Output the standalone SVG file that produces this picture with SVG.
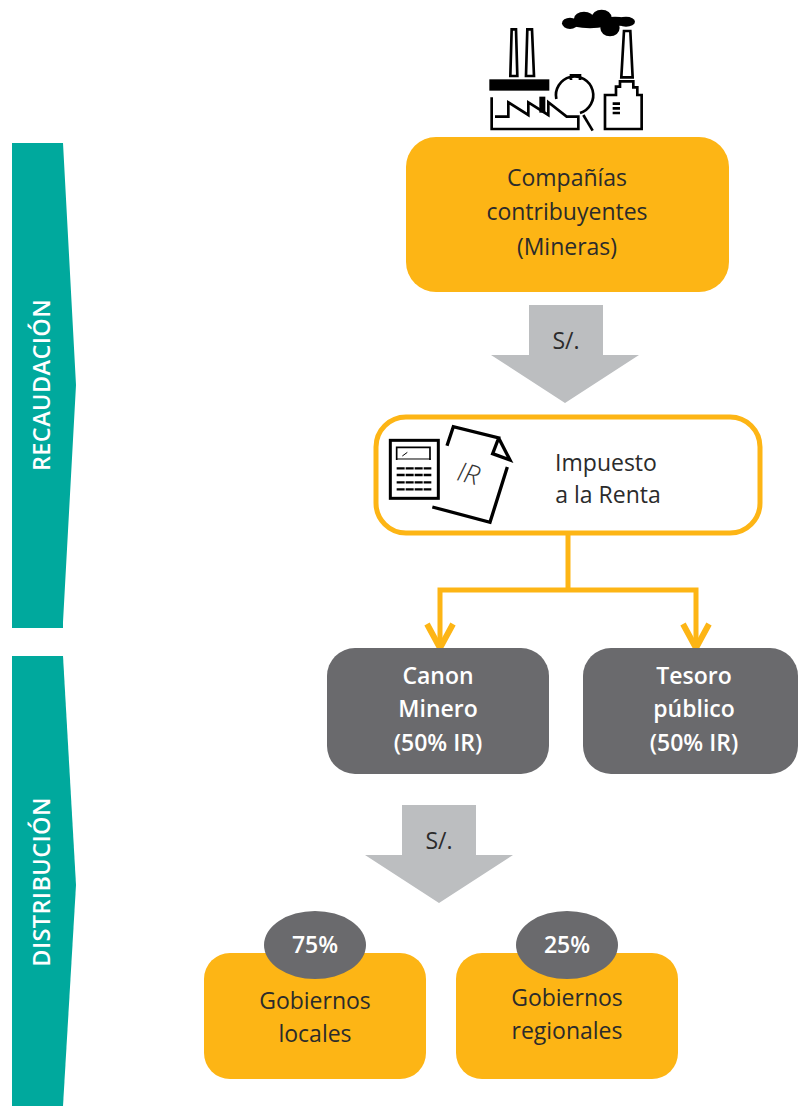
<svg xmlns="http://www.w3.org/2000/svg" width="798" height="1106" viewBox="0 0 798 1106">
<style>
text{font-family:"Open Sans","Noto Sans","Liberation Sans",sans-serif;text-anchor:middle}
.t{font-size:23px;fill:#2b2b2b}
.w{font-size:23px;fill:#fff;font-weight:600}
.s{font-size:23.5px;fill:#fff;font-weight:600;letter-spacing:.4px}
.y{fill:#fdb515}
.g{fill:#6a6a6d}
.a{fill:#bcbec0}
.b{fill:#00a99d}
.k{fill:none;stroke:#000;stroke-width:8}
.c{fill:none;stroke:#fdb515;stroke-width:5}
</style>
<defs>
<marker id="ah" markerUnits="userSpaceOnUse" viewBox="0 0 34 34" refX="31" refY="17" markerWidth="34" markerHeight="34" orient="auto"><path d="M5 4L29 17L5 30" fill="none" stroke="#fdb515" stroke-width="6"/></marker>
</defs>
<rect width="798" height="1106" fill="#fff"/>
<g id="band-recaudacion">
<path class="b" d="M12 143H63L76 385L63 622V628H12Z"/>
<text class="s" transform="translate(50 385) rotate(-90)">RECAUDACIÓN</text>
</g>
<g id="band-distribucion">
<path class="b" d="M12 656H63L76 885L63 1106H12Z"/>
<text class="s" transform="translate(50 882) rotate(-90)">DISTRIBUCIÓN</text>
</g>
<g id="icon-factory" transform="translate(470 0) scale(.3333)">
<path class="k" d="M125 88H138L142 228H121ZM172 88H186L192 228H168ZM454 232L462 93H481L488 232Z"/>
<rect x="58" y="238" width="180" height="34"/>
<path class="k" d="M65 292V387H325V350H290L235 307V345L175 307V345L115 307V350H75"/>
<rect x="208" y="290" width="18" height="48"/>
<path d="M259 297A56 56 0 1 1 330 339M303 240V226H330V240" class="k"/>
<path d="M340 345L368 392" class="k"/>
<path class="k" d="M405 387V285H438V260H450V244H490V262H502V285H515V387Z"/>
<path d="M428 311H450M428 325H450M428 339H450" stroke="#000" stroke-width="8"/>
<ellipse cx="300" cy="70" rx="24" ry="17"/>
<ellipse cx="342" cy="56" rx="30" ry="21"/>
<ellipse cx="395" cy="54" rx="30" ry="25"/>
<ellipse cx="420" cy="84" rx="29" ry="25"/>
<ellipse cx="468" cy="65" rx="27" ry="15"/>
<ellipse cx="360" cy="70" rx="62" ry="15"/>
<ellipse cx="435" cy="64" rx="40" ry="14"/>
</g>
<g id="node-companias">
<rect class="y" x="406" y="137" width="323" height="155" rx="30"/>
<text class="t" x="567" y="186">Compañías</text>
<text class="t" x="567" y="220">contribuyentes</text>
<text class="t" x="567" y="255">(Mineras)</text>
</g>
<g id="arrow-1">
<path class="a" d="M529 305H603V355H639L565 403L491 355H529Z"/>
<text class="t" x="566" y="349">S/.</text>
</g>
<g id="node-impuesto">
<rect x="376" y="417" width="384" height="116" rx="30" fill="#fff" stroke="#fdb515" stroke-width="5"/>
<g id="icon-doc" transform="translate(370 405) scale(.3333)">
<rect x="61" y="106" width="144" height="174" fill="none" stroke="#000" stroke-width="9"/>
<path d="M80 165V127H180V165" fill="none" stroke="#000" stroke-width="5"/>
<path d="M80 162H182" stroke="#000" stroke-width="3"/>
<path d="M97 153L112 142" stroke="#000" stroke-width="3"/>
<path d="M80 190H184M80 210H184M80 232H184M80 253H184" stroke="#000" stroke-width="7" stroke-dasharray="24 3"/>
<path d="M231 122L250 65L386 99L368 146L420 165L386 99M412 186L360 352L187 306" fill="none" stroke="#000" stroke-width="10"/>
<text x="296" y="234" transform="rotate(14 296 205)" style="font-size:80px;font-weight:300;font-style:italic;fill:#333">IR</text>
</g>
<text class="t" x="606" y="471">Impuesto</text>
<text class="t" x="608" y="503">a la Renta</text>
</g>
<g id="connectors">
<path class="c" d="M568 533V590"/>
<path class="c" marker-end="url(#ah)" d="M568 590H440V650"/>
<path class="c" marker-end="url(#ah)" d="M568 590H696V650"/>
</g>
<g id="node-canon">
<rect class="g" x="327" y="648" width="222" height="126" rx="28"/>
<text class="w" x="438" y="684">Canon</text>
<text class="w" x="438" y="717">Minero</text>
<text class="w" x="438" y="751">(50% IR)</text>
</g>
<g id="node-tesoro">
<rect class="g" x="583" y="648" width="215" height="126" rx="28"/>
<text class="w" x="694" y="684">Tesoro</text>
<text class="w" x="694" y="717">público</text>
<text class="w" x="694" y="751">(50% IR)</text>
</g>
<g id="arrow-2">
<path class="a" d="M402 805H476V855H513L439 903L365 855H402Z"/>
<text class="t" x="439" y="849">S/.</text>
</g>
<g id="node-locales">
<rect class="y" x="204" y="953" width="222" height="126" rx="26"/>
<text class="t" x="315" y="1009">Gobiernos</text>
<text class="t" x="315" y="1042">locales</text>
</g>
<g id="node-regionales">
<rect class="y" x="456" y="953" width="222" height="126" rx="26"/>
<text class="t" x="567" y="1006">Gobiernos</text>
<text class="t" x="567" y="1039">regionales</text>
</g>
<g id="pct-75">
<ellipse class="g" cx="315" cy="945" rx="51" ry="34"/>
<text class="w" x="315" y="953">75%</text>
</g>
<g id="pct-25">
<ellipse class="g" cx="567" cy="945" rx="51" ry="34"/>
<text class="w" x="567" y="953">25%</text>
</g>
</svg>
